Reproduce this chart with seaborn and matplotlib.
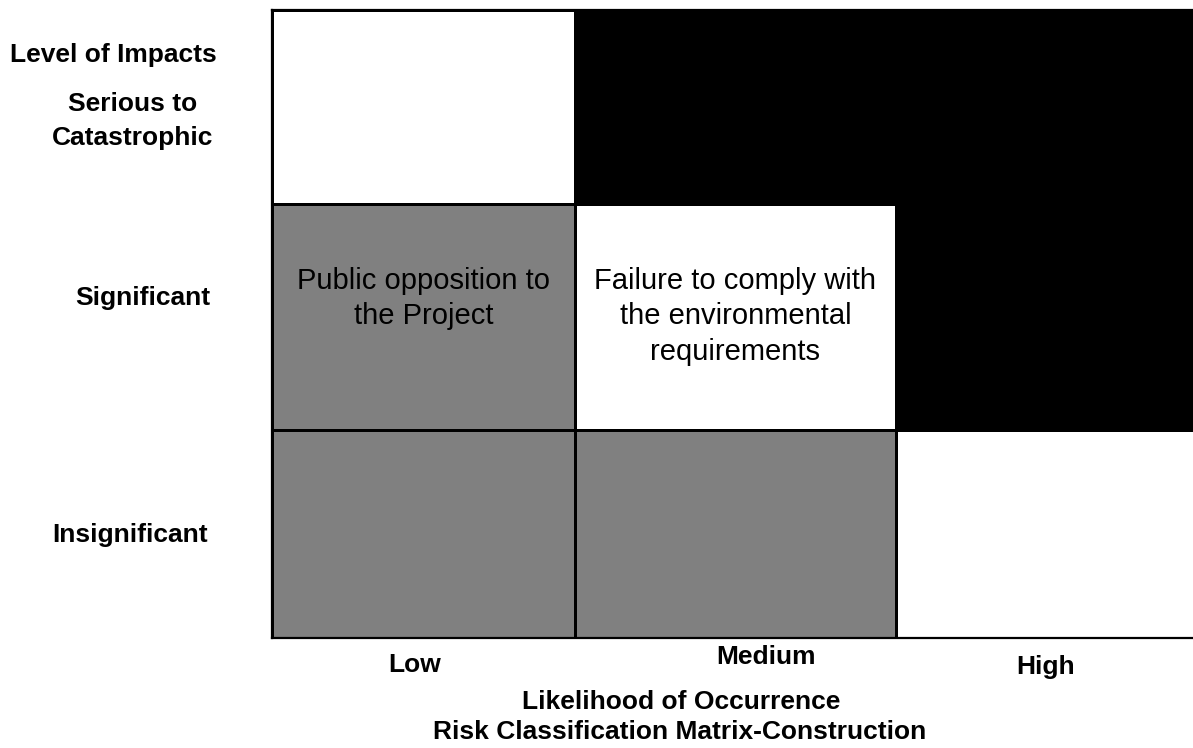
import numpy as np
import pandas as pd
import matplotlib
matplotlib.use("Agg")
import matplotlib.pyplot as plt
import seaborn as sns
from matplotlib.colors import ListedColormap

# --- Data ---
impact_levels = ["Serious to\nCatastrophic", "Significant", "Insignificant"]
likelihood_levels = ["Low", "Medium", "High"]
# 0 = low risk (white), 1 = moderate (grey), 2 = high (black)
risk_class = [[0, 2, 2],
              [1, 0, 2],
              [1, 1, 0]]
note_rows = [1, 1]
note_cols = [0, 1]
note_texts = ["Public opposition to\nthe Project",
              "Failure to comply with\nthe environmental\nrequirements"]

# --- Layout (pixels) ---
W, H = 1193, 748
col_edges = np.array([0, 303, 624, 930])
row_edges = np.array([0, 194, 420, 628])
x0, y0 = 272, 10


def draw_matrix():
    sns.set_style("white")
    plt.rcParams["font.family"] = ["Liberation Sans", "DejaVu Sans"]

    df = pd.DataFrame(risk_class, index=impact_levels, columns=likelihood_levels)

    fig = plt.figure(figsize=(W / 100, H / 100), dpi=100)
    ax = fig.add_axes([x0 / W, 1 - (y0 + row_edges[-1]) / H,
                       col_edges[-1] / W, row_edges[-1] / H])

    sns.heatmap(df, ax=ax, cmap=ListedColormap(["white", "#808080", "black"]),
                vmin=-0.5, vmax=2.5, cbar=False, linewidths=0.75,
                linecolor="black", xticklabels=False, yticklabels=False)

    # stretch cells to the uneven widths / heights of the original
    coords = ax.collections[0].get_coordinates()
    coords[..., 0] = col_edges[np.newaxis, :]
    coords[..., 1] = row_edges[:, np.newaxis]
    ax.set_xlim(0, col_edges[-1])
    ax.set_ylim(row_edges[-1], 0)

    for s in ["left", "bottom", "top"]:
        ax.spines[s].set_visible(True)
        ax.spines[s].set_linewidth(1.6)
        ax.spines[s].set_color("black")
    ax.spines["right"].set_visible(False)

    # cell notes
    for r, c, t in zip(note_rows, note_cols, note_texts):
        cx = (col_edges[c] + col_edges[c + 1]) / 2
        ax.text(cx, row_edges[r] + 63, t, ha="center", va="top",
                fontsize=21, linespacing=1.33, color="black")

    bold = dict(fontsize=19, fontweight="bold", color="black", clip_on=False)

    # row labels
    ax.text(10 - x0, 55 - y0, "Level of Impacts", ha="left", va="center", **bold)
    ax.text(133 - x0, 121 - y0, impact_levels[0], ha="center", va="center",
            linespacing=1.57, **bold)
    ax.text(210 - x0, 298 - y0, impact_levels[1], ha="right", va="center", **bold)
    ax.text(208 - x0, 535 - y0, impact_levels[2], ha="right", va="center", **bold)

    # column labels
    for lbl, px, py in zip(likelihood_levels, [415, 766, 1046], [665, 657, 667]):
        ax.text(px - x0, py - y0, lbl, ha="center", va="center", **bold)

    ax.text(681 - x0, 702 - y0, "Likelihood of Occurrence", ha="center",
            va="center", **bold)
    ax.text(680 - x0, 732 - y0, "Risk Classification Matrix-Construction",
            ha="center", va="center", **bold)

    fig.savefig("out.png", dpi=100)


if __name__ == "__main__":
    draw_matrix()
